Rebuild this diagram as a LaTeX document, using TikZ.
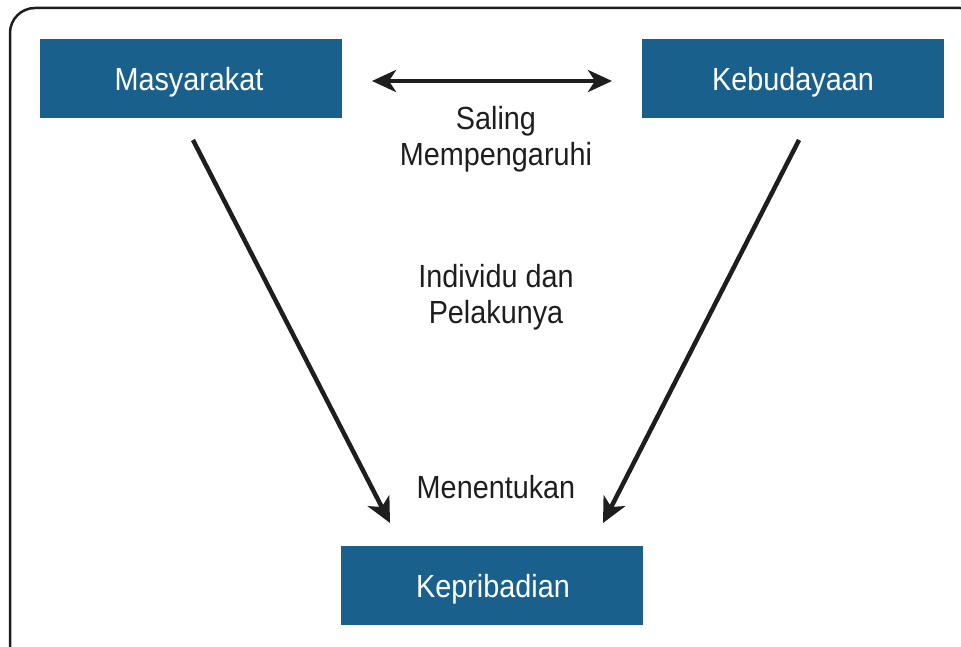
\documentclass[tikz,border=0pt]{standalone}
\usepackage{fontspec}
\setmainfont[FakeStretch=0.9]{Liberation Sans}
\usetikzlibrary{arrows.meta}
\definecolor{boxblue}{RGB}{26,96,140}
\definecolor{ink}{RGB}{30,30,30}
\begin{document}
\begin{tikzpicture}[x=1pt,y=-1pt,
  box/.style={fill=boxblue,minimum width=302pt,minimum height=79pt,inner sep=0pt},
  boxtext/.style={text=white,inner sep=0pt,text height=23pt,text depth=0pt,font=\fontsize{32}{36}\selectfont},
  lbl/.style={text=ink,inner sep=0pt,text height=23pt,text depth=0pt,font=\fontsize{32}{36}\selectfont},
  arr/.style={draw=ink,line width=4.5pt,-{Stealth[length=25pt,width=24pt,inset=7pt]}}]
\useasboundingbox (0,0) rectangle (961,647);
\draw[ink,line width=2.5pt,rounded corners=25pt] (10,8) rectangle (985,672);
\node[box] (mas) at (191,78.5) {};
\node[box] (keb) at (793,78.5) {};
\node[box] (kep) at (492,585) {};
\node[boxtext] (mast) at (189,79) {Masyarakat};
\node[boxtext] (kebt) at (793,79) {Kebudayaan};
\node[boxtext] (kept) at (493,586) {Kepribadian};
\coordinate (dl) at (372,81);
\coordinate (dr) at (612,81);
\draw[draw=ink,line width=4.5pt,{Stealth[length=24pt,width=22pt,inset=7pt]}-{Stealth[length=24pt,width=22pt,inset=7pt]}] (dl) -- (dr);
\node[lbl] (sal1) at (496,118) {Saling};
\node[lbl] (sal2) at (496,154) {Mempengaruhi};
\node[lbl] (ind1) at (496,275.5) {Individu dan};
\node[lbl] (ind2) at (496,311.5) {Pelakunya};
\node[lbl] (men) at (496,486.5) {Menentukan};
\coordinate (ls) at (193,140);
\coordinate (le) at (390,523);
\coordinate (rs) at (799,140);
\coordinate (re) at (603,523);
\draw[arr] (ls) -- (le);
\draw[arr] (rs) -- (re);
\end{tikzpicture}
\end{document}
